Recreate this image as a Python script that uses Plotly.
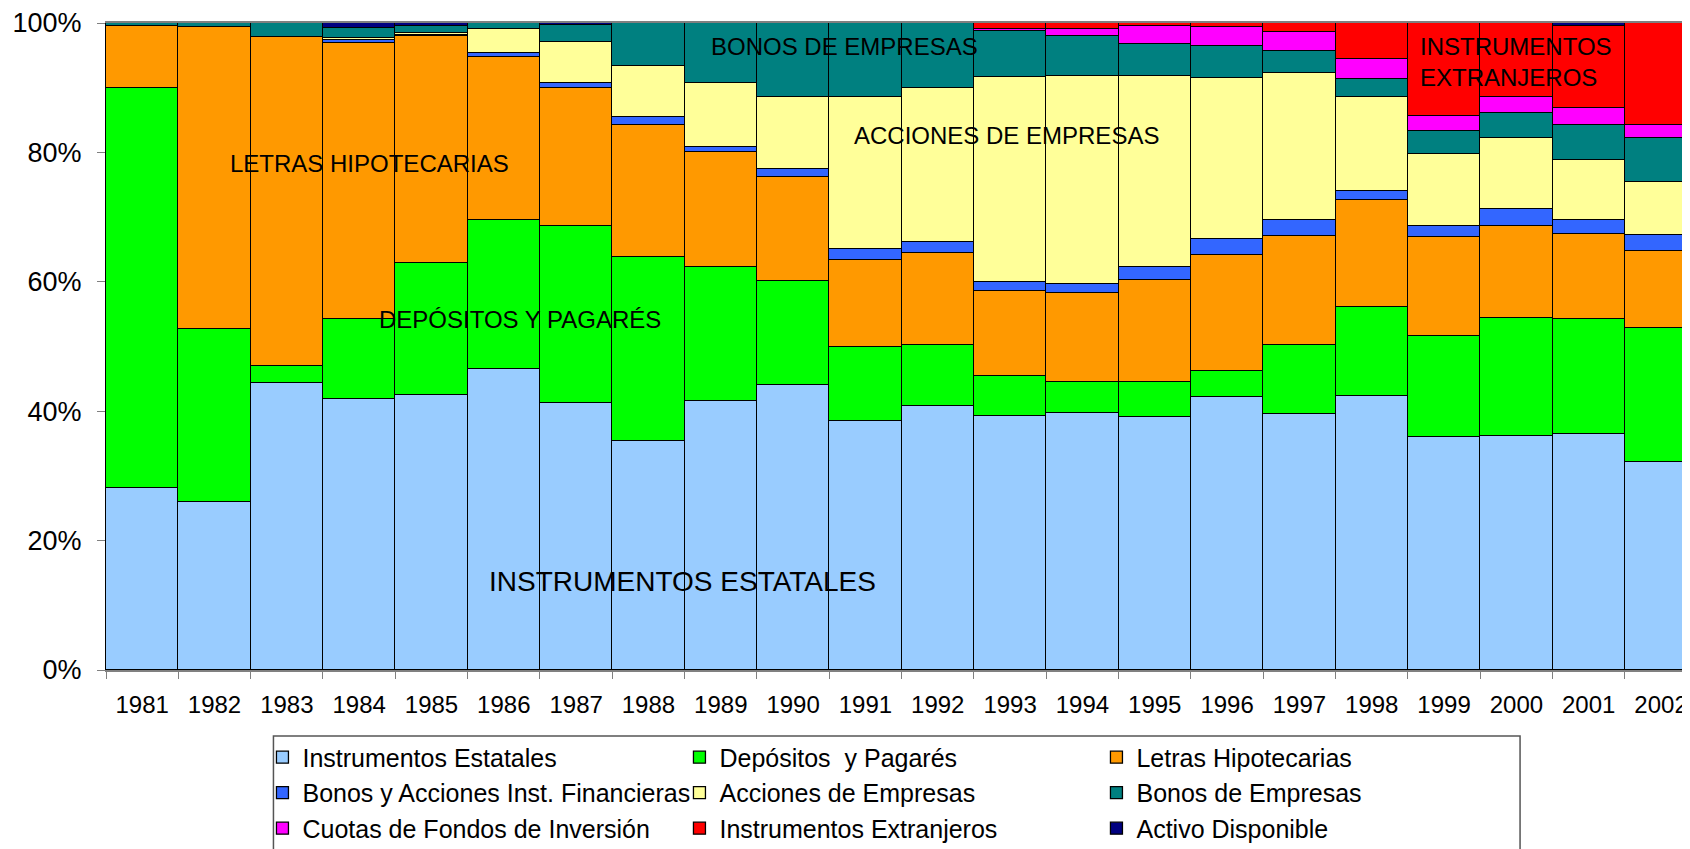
import plotly.graph_objects as go

years = ["1981", "1982", "1983", "1984", "1985", "1986", "1987", "1988", "1989", "1990", "1991",
         "1992", "1993", "1994", "1995", "1996", "1997", "1998", "1999", "2000", "2001", "2002"]

instrumentos_estatales = [28.2, 26.0, 44.4, 41.9, 42.5, 46.5, 41.3, 35.4, 41.6, 44.0, 38.5,
                          40.8, 39.2, 39.7, 39.1, 42.2, 39.5, 42.4, 36.0, 36.2, 36.5, 32.2]
depositos_pagares = [61.8, 26.7, 2.6, 12.4, 20.4, 23.1, 27.4, 28.5, 20.7, 16.1, 11.4,
                     9.4, 6.2, 4.8, 5.4, 4.0, 10.7, 13.7, 15.6, 18.2, 17.8, 20.7]
letras_hipotecarias = [9.5, 46.7, 50.8, 42.6, 35.1, 25.2, 21.3, 20.4, 17.7, 16.1, 13.5,
                       14.2, 13.2, 13.7, 15.8, 17.9, 16.9, 16.6, 15.3, 14.3, 13.1, 11.9]
bonos_acciones_if = [0, 0, 0, 0.5, 0.2, 0.5, 0.7, 1.2, 0.9, 1.2, 1.7,
                     1.7, 1.3, 1.4, 2.0, 2.5, 2.5, 1.4, 1.8, 2.5, 2.2, 2.4]
acciones_empresas = [0, 0, 0, 0.3, 0.2, 3.8, 6.3, 7.9, 9.9, 11.2, 23.5,
                     23.9, 31.7, 32.2, 29.5, 24.9, 22.6, 14.5, 11.1, 11.0, 9.3, 8.3]
bonos_empresas = [0.5, 0.6, 2.2, 1.5, 1.1, 0.9, 2.7, 6.6, 9.2, 11.4, 11.4,
                  10.0, 7.2, 6.2, 5.0, 4.9, 3.5, 2.7, 3.5, 3.9, 5.4, 6.7]
cuotas_fondos = [0, 0, 0, 0, 0, 0, 0, 0, 0, 0, 0,
                 0, 0.2, 1.1, 2.8, 3.0, 2.9, 3.1, 2.4, 2.5, 2.5, 2.1]
instrumentos_extranjeros = [0, 0, 0, 0, 0, 0, 0, 0, 0, 0, 0,
                            0, 1.0, 0.9, 0.4, 0.6, 1.4, 5.6, 14.3, 11.4, 12.8, 15.7]
activo_disponible = [0, 0, 0, 0.8, 0.5, 0, 0.3, 0, 0, 0, 0,
                     0, 0, 0, 0, 0, 0, 0, 0, 0, 0.4, 0]

series_names = ["Instrumentos Estatales", "Depósitos  y Pagarés", "Letras Hipotecarias",
                "Bonos y Acciones Inst. Financieras", "Acciones de Empresas", "Bonos de Empresas",
                "Cuotas de Fondos de Inversión", "Instrumentos Extranjeros", "Activo Disponible"]
series_values = [instrumentos_estatales, depositos_pagares, letras_hipotecarias,
                 bonos_acciones_if, acciones_empresas, bonos_empresas,
                 cuotas_fondos, instrumentos_extranjeros, activo_disponible]
series_colors = ["#99CCFF", "#00FF00", "#FF9900", "#3366FF", "#FFFF99", "#008080",
                 "#FF00FF", "#FF0000", "#000080"]

y_ticks = [0, 20, 40, 60, 80, 100]
y_tick_labels = ["0%", "20%", "40%", "60%", "80%", "100%"]

FONT = "Arial, 'Liberation Sans', sans-serif"

fig = go.Figure()
for name, vals, col in zip(series_names, series_values, series_colors):
    fig.add_trace(go.Bar(
        x=years, y=vals, name=name,
        marker=dict(color=col, line=dict(color="black", width=1.3)),
        hoverinfo="x+y+name",
    ))

# page coordinates (the html body adds an 8px offset)
OFF = 8
W, H = 1690, 849
PL, PT, PB = 105.5, 22.5, 670          # plot area left/top/bottom in page px
CAT = 72.35                              # px per category
PW = W + OFF - PL                        # plot width (figure extends past the window)
PH = PB - PT

def paper_x(px):
    return (px - PL) / PW

def paper_y(py):
    return (PB - py) / PH

fig.update_layout(
    width=W, height=H, autosize=False,
    margin=dict(l=PL - OFF, r=0, t=PT - OFF, b=H + OFF - PB, pad=0),
    barmode="stack", barnorm="percent", bargap=0,
    paper_bgcolor="white", plot_bgcolor="white",
    font=dict(family=FONT, color="black"),
    showlegend=True,
    legend=dict(
        orientation="h", traceorder="normal",
        x=paper_x(262), xanchor="left",
        y=paper_y(734.5), yanchor="top",
        font=dict(family=FONT, size=25, color="black"),
        entrywidth=372, entrywidthmode="pixels",
        bgcolor="rgba(0,0,0,0)", borderwidth=0,
        itemclick=False, itemdoubleclick=False,
    ),
    xaxis=dict(
        type="category", range=[-0.5, -0.5 + PW / CAT],
        tickson="boundaries", ticks="outside", ticklen=7, tickcolor="#808080",
        showline=True, linecolor="#808080", linewidth=1.5, mirror=True,
        showgrid=False, tickfont=dict(family=FONT, size=24, color="black"),
        ticklabelstandoff=12,
    ),
    yaxis=dict(
        range=[0, 100], tickmode="array", tickvals=y_ticks, ticktext=y_tick_labels,
        ticks="outside", ticklen=8, tickcolor="#808080",
        showline=True, linecolor="black", linewidth=1,
        showgrid=False, zeroline=False,
        tickfont=dict(family=FONT, size=27, color="black"),
        ticklabelstandoff=10,
    ),
    shapes=[dict(
        type="rect", xref="paper", yref="paper",
        x0=paper_x(273), x1=paper_x(1520),
        y0=paper_y(736), y1=paper_y(880),
        line=dict(color="#555555", width=1.5), fillcolor="rgba(0,0,0,0)", layer="below",
    )],
)

def px_to_x(px):
    return (px - PL) / CAT - 0.5

def px_to_y(py):
    return (PB - py) / PH * 100

labels = [
    ("INSTRUMENTOS ESTATALES", 682.4, 581, 28),
    ("LETRAS HIPOTECARIAS", 369.5, 163.5, 24),
    ("DEPÓSITOS Y PAGARÉS", 519.5, 319, 24),
    ("BONOS DE EMPRESAS", 844.5, 46, 24),
    ("ACCIONES DE EMPRESAS", 1006.7, 135.5, 24),
]
for text, xp, yp, size in labels:
    fig.add_annotation(x=px_to_x(xp), y=px_to_y(yp), xref="x", yref="y", text=text,
                       showarrow=False, xanchor="center", yanchor="middle",
                       font=dict(family=FONT, size=size, color="black"))

fig.add_annotation(x=px_to_x(1418), y=px_to_y(61.5), xref="x", yref="y",
                   text="INSTRUMENTOS<br>EXTRANJEROS", showarrow=False,
                   xanchor="left", yanchor="middle", align="left",
                   font=dict(family=FONT, size=24, color="black"))

fig.write_html("out.html")
